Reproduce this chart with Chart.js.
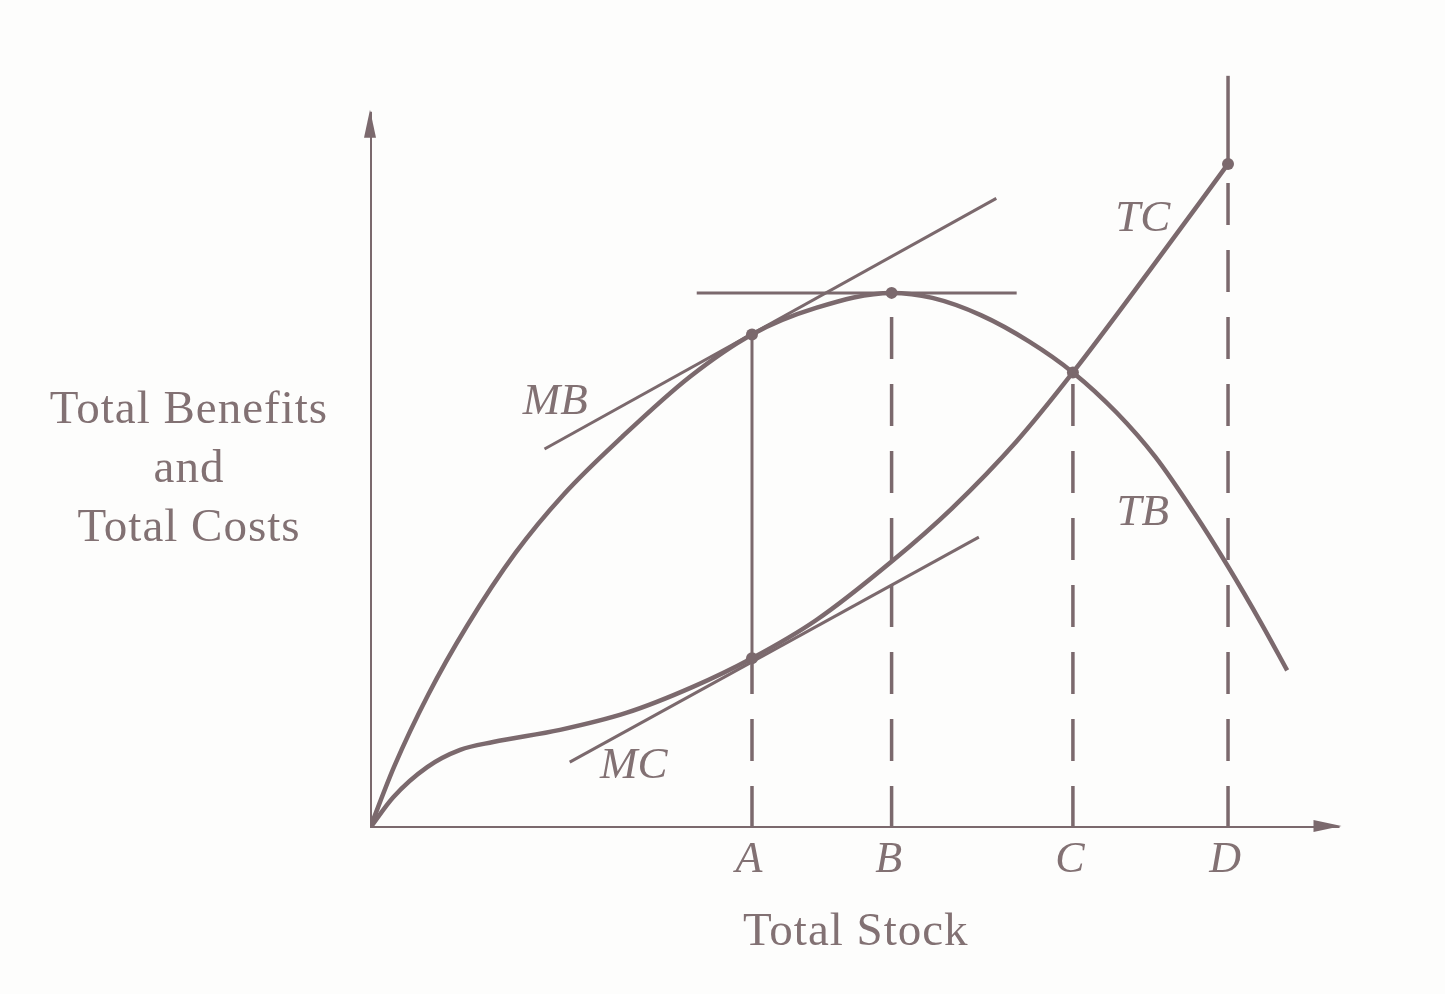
<!DOCTYPE html>
<html>
<head>
<meta charset="utf-8">
<title>Total Benefits and Total Costs</title>
<script src="https://cdn.jsdelivr.net/npm/chart.js"></script>
<style>
  html, body { margin: 0; padding: 0; background: #fdfdfc; }
  canvas { display: block; }
</style>
</head>
<body>
<canvas id="stockChart" width="1445" height="994"></canvas>
<script>
// values (stock on x, benefits/costs on y)
const tbX = [0, 2.5, 6, 10, 15, 20, 26, 33, 39.4, 46, 53.8, 58, 63, 68, 72.5, 77, 81, 85, 88.5, 92, 94.6];
const tbY = [0, 8.6, 18.6, 28.2, 38.4, 46.6, 54.6, 63.0, 68.9, 72.6, 74.7, 74.0, 71.6, 67.9, 63.6, 58.0, 51.8, 44.0, 36.5, 28.4, 22.0];
const tcX = [0, 2.4, 5.9, 9.3, 12.7, 19.6, 26.5, 33.3, 39.4, 46, 53.8, 60, 66.7, 72.5, 80.4, 88.5];
const tcY = [0, 4.3, 8.5, 10.9, 12.0, 13.7, 16.1, 19.7, 23.7, 29.0, 37.2, 44.6, 54.0, 63.6, 77.8, 92.7];

const stockMarks = ['A', 'B', 'C', 'D'];
const stockAt = [39.4, 53.8, 72.5, 88.5];
const tbAtMarks = [68.9, 74.7, 63.6, 36.5];
const tcAtMarks = [23.7, 37.2, 63.6, 92.7];

// tangent lines: MB at A, MC at A, flat at B
const mbX = [18.0, 64.6];
const mbY = [52.9, 87.9];
const mcX = [20.6, 62.8];
const mcY = [9.2, 40.6];
const flatX = [33.7, 66.7];

const axisTop = 100;
const axisRight = 100;
const dTop = 105;

const ink = '#7b696d';
const textInk = '#827173';
const serif = "'Liberation Serif', 'DejaVu Serif', serif";

const pts = (xs, ys) => xs.map((x, i) => ({ x: x, y: ys[i] }));

function seg(data, opts) {
    return Object.assign({
        type: 'line',
        data: data,
        borderColor: ink,
        borderWidth: 3,
        pointRadius: 0,
        fill: false,
        tension: 0
    }, opts || {});
}

const dashStyle = { borderDash: [42, 25], borderWidth: 3.5 };

const datasets = [
    // axes
    seg([{ x: 0, y: 0 }, { x: 0, y: axisTop }], { borderWidth: 4 }),
    seg([{ x: 0, y: 0 }, { x: axisRight, y: 0 }], { borderWidth: 4 }),
    // curves
    seg(pts(tbX, tbY), { borderWidth: 4.5, cubicInterpolationMode: 'monotone' }),
    seg(pts(tcX, tcY), { borderWidth: 4.5, cubicInterpolationMode: 'monotone' }),
    // tangents
    seg(pts(mbX, mbY), { borderWidth: 3 }),
    seg(pts(mcX, mcY), { borderWidth: 3 }),
    seg(pts(flatX, [tbAtMarks[1], tbAtMarks[1]]), { borderWidth: 3 }),
    // A: solid between curves, dashed below
    seg([{ x: stockAt[0], y: tcAtMarks[0] }, { x: stockAt[0], y: tbAtMarks[0] }], { borderWidth: 3 }),
    seg([{ x: stockAt[0], y: 0 }, { x: stockAt[0], y: tcAtMarks[0] }], dashStyle),
    // B, C dashed
    seg([{ x: stockAt[1], y: 0 }, { x: stockAt[1], y: tbAtMarks[1] }], dashStyle),
    seg([{ x: stockAt[2], y: 0 }, { x: stockAt[2], y: tcAtMarks[2] }], dashStyle),
    // D dashed up to TC, solid above
    seg([{ x: stockAt[3], y: 0 }, { x: stockAt[3], y: tcAtMarks[3] }], dashStyle),
    seg([{ x: stockAt[3], y: tcAtMarks[3] }, { x: stockAt[3], y: dTop }], { borderWidth: 3.5 }),
    // dots
    {
        type: 'scatter',
        data: [
            { x: stockAt[0], y: tbAtMarks[0] },
            { x: stockAt[0], y: tcAtMarks[0] },
            { x: stockAt[1], y: tbAtMarks[1] },
            { x: stockAt[2], y: tcAtMarks[2] },
            { x: stockAt[3], y: tcAtMarks[3] }
        ],
        pointRadius: 6,
        pointBackgroundColor: ink,
        pointBorderWidth: 0
    }
];

// arrowheads + all text
const decorPlugin = {
    id: 'decor',
    afterDatasetsDraw(chart) {
        const ctx = chart.ctx;
        const xs = chart.scales.x, ys = chart.scales.y;
        const ox = xs.getPixelForValue(0), oy = ys.getPixelForValue(0);

        ctx.save();
        ctx.fillStyle = ink;
        // y arrow
        const ty = ys.getPixelForValue(axisTop);
        ctx.beginPath();
        ctx.moveTo(ox, ty - 2);
        ctx.lineTo(ox - 6, ty + 26);
        ctx.lineTo(ox + 6, ty + 26);
        ctx.closePath();
        ctx.fill();
        // x arrow
        const tx = xs.getPixelForValue(axisRight);
        ctx.beginPath();
        ctx.moveTo(tx + 2, oy - 2);
        ctx.lineTo(tx - 26, oy - 8);
        ctx.lineTo(tx - 26, oy + 4);
        ctx.closePath();
        ctx.fill();

        ctx.fillStyle = textInk;
        ctx.textAlign = 'center';
        ctx.textBaseline = 'alphabetic';

        // stock marks under axis
        ctx.font = 'italic 44px ' + serif;
        stockMarks.forEach((m, i) => {
            ctx.fillText(m, xs.getPixelForValue(stockAt[i]) - 3, oy + 44);
        });

        // curve labels
        ctx.font = 'italic 45px ' + serif;
        const tags = [['MB', 19.1, 59.5], ['MC', 27.2, 8.7], ['TC', 79.7, 85.0], ['TB', 79.7, 44.0]];
        ctx.textBaseline = 'middle';
        tags.forEach(t => {
            ctx.fillText(t[0], xs.getPixelForValue(t[1]), ys.getPixelForValue(t[2]));
        });

        // axis titles
        ctx.font = '47px ' + serif;
        ctx.letterSpacing = '1px';
        ctx.textBaseline = 'alphabetic';
        ctx.fillText('Total Stock', xs.getPixelForValue(50) + 1, oy + 117);
        const yMid = ys.getPixelForValue(50);
        ['Total Benefits', 'and', 'Total Costs'].forEach((line, i) => {
            ctx.fillText(line, 189, yMid - 47 + i * 59);
        });
        ctx.restore();
    }
};

new Chart(document.getElementById('stockChart'), {
    type: 'scatter',
    data: { datasets: datasets },
    options: {
        responsive: false,
        animation: false,
        devicePixelRatio: 1,
        layout: { padding: { left: 370, right: 57, top: 40, bottom: 166 } },
        plugins: {
            legend: { display: false },
            tooltip: { enabled: false }
        },
        scales: {
            x: { type: 'linear', min: 0, max: 105, display: false },
            y: { type: 'linear', min: 0, max: 110, display: false }
        }
    },
    plugins: [decorPlugin]
});
</script>
</body>
</html>
